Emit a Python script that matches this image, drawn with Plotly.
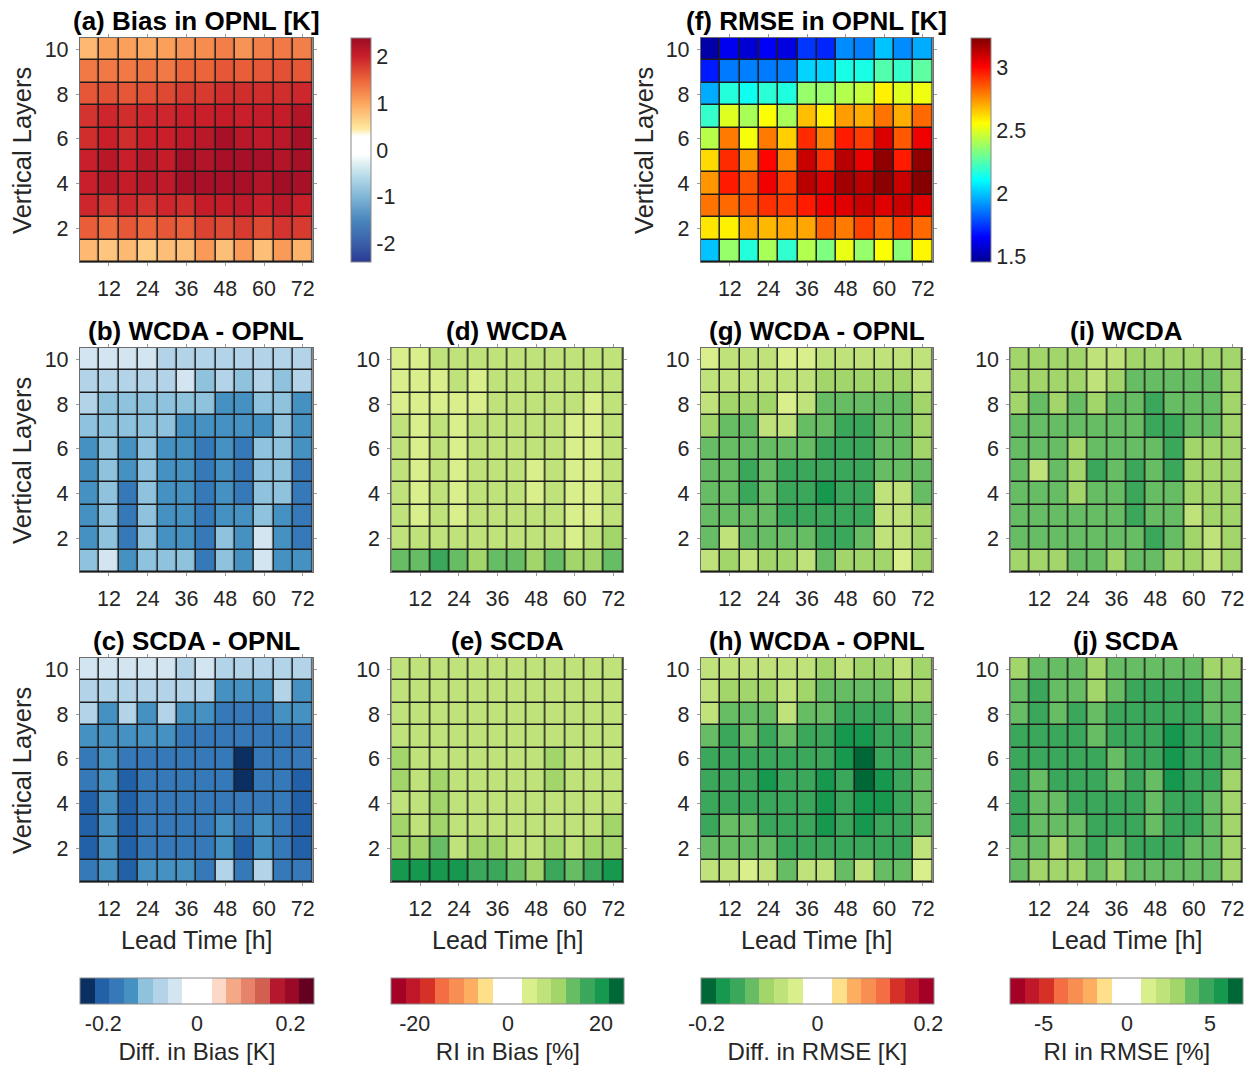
import plotly.graph_objects as go

W, H = 1258, 1066

# ---------------- data ----------------
lead_times = [6, 12, 18, 24, 30, 36, 42, 48, 54, 60, 66, 72]   # [h]
layers = [10, 9, 8, 7, 6, 5, 4, 3, 2, 1]                       # row order of every table (top row first)
x_ticks = [12, 24, 36, 48, 60, 72]
y_ticks = [2, 4, 6, 8, 10]

bias_opnl = [
    [0.85, 1.05, 1.05, 1.0, 1.05, 1.15, 1.2, 1.3, 1.15, 1.3, 1.35, 1.3],
    [1.35, 1.35, 1.35, 1.4, 1.35, 1.5, 1.5, 1.6, 1.55, 1.6, 1.65, 1.6],
    [1.6, 1.65, 1.6, 1.65, 1.7, 1.8, 1.8, 1.9, 1.9, 1.9, 1.9, 1.95],
    [1.85, 1.95, 1.9, 1.95, 1.95, 2.0, 2.0, 2.05, 2.0, 2.05, 2.05, 2.2],
    [1.9, 2.0, 1.9, 2.0, 2.0, 2.1, 2.15, 2.3, 2.15, 2.1, 2.15, 2.3],
    [2.0, 2.15, 2.0, 2.15, 2.05, 2.3, 2.2, 2.3, 2.3, 2.3, 2.2, 2.3],
    [2.0, 2.15, 2.05, 2.15, 2.1, 2.3, 2.3, 2.3, 2.3, 2.2, 2.35, 2.3],
    [1.95, 1.85, 1.95, 1.85, 1.95, 1.9, 2.05, 2.05, 2.1, 2.0, 2.15, 2.0],
    [1.55, 1.45, 1.6, 1.5, 1.6, 1.55, 1.75, 1.7, 1.8, 1.7, 1.85, 1.8],
    [0.85, 0.75, 0.85, 0.7, 0.8, 0.8, 1.1, 0.8, 1.1, 0.8, 1.1, 0.9],
]

rmse_opnl = [
    [1.5, 1.63, 1.58, 1.64, 1.6, 1.75, 1.72, 1.9, 1.88, 2.0, 1.9, 1.96],
    [1.7, 1.87, 1.88, 1.87, 1.88, 2.03, 2.03, 2.15, 2.15, 2.25, 2.2, 2.27],
    [1.96, 2.17, 2.13, 2.18, 2.16, 2.37, 2.37, 2.42, 2.45, 2.58, 2.5, 2.53],
    [2.2, 2.5, 2.4, 2.55, 2.4, 2.67, 2.58, 2.73, 2.7, 2.8, 2.7, 2.82],
    [2.43, 2.79, 2.54, 2.79, 2.64, 2.93, 2.77, 2.96, 2.9, 3.07, 2.85, 3.03],
    [2.62, 2.93, 2.74, 3.0, 2.77, 3.1, 2.93, 3.13, 3.04, 3.2, 2.96, 3.2],
    [2.74, 2.96, 2.86, 3.03, 2.9, 3.13, 3.07, 3.17, 3.13, 3.21, 3.1, 3.22],
    [2.8, 2.82, 2.86, 2.92, 2.9, 2.96, 3.03, 3.06, 3.1, 3.06, 3.1, 3.06],
    [2.6, 2.58, 2.7, 2.68, 2.71, 2.71, 2.84, 2.79, 2.89, 2.82, 2.89, 2.82],
    [2.0, 2.37, 2.17, 2.4, 2.19, 2.42, 2.33, 2.52, 2.37, 2.55, 2.35, 2.57],
]

bias_diff_wcda = [
    [-0.05, -0.05, -0.05, -0.05, -0.08, -0.08, -0.08, -0.08, -0.08, -0.08, -0.08, -0.08],
    [-0.08, -0.08, -0.08, -0.08, -0.08, -0.05, -0.11, -0.08, -0.11, -0.08, -0.11, -0.08],
    [-0.08, -0.11, -0.11, -0.11, -0.11, -0.11, -0.11, -0.14, -0.14, -0.11, -0.11, -0.14],
    [-0.11, -0.11, -0.11, -0.11, -0.11, -0.14, -0.14, -0.14, -0.14, -0.14, -0.11, -0.14],
    [-0.14, -0.11, -0.14, -0.11, -0.14, -0.14, -0.17, -0.14, -0.17, -0.11, -0.11, -0.14],
    [-0.14, -0.11, -0.14, -0.11, -0.14, -0.14, -0.17, -0.14, -0.17, -0.11, -0.11, -0.17],
    [-0.14, -0.11, -0.17, -0.11, -0.14, -0.14, -0.17, -0.14, -0.17, -0.11, -0.11, -0.17],
    [-0.14, -0.11, -0.17, -0.11, -0.14, -0.14, -0.17, -0.14, -0.14, -0.11, -0.14, -0.17],
    [-0.14, -0.11, -0.17, -0.11, -0.14, -0.14, -0.17, -0.11, -0.14, -0.05, -0.14, -0.17],
    [-0.11, -0.05, -0.14, -0.11, -0.11, -0.11, -0.17, -0.11, -0.14, -0.05, -0.14, -0.14],
]

bias_diff_scda = [
    [-0.05, -0.05, -0.05, -0.05, -0.05, -0.08, -0.05, -0.08, -0.08, -0.08, -0.08, -0.08],
    [-0.08, -0.08, -0.08, -0.08, -0.08, -0.08, -0.08, -0.14, -0.14, -0.14, -0.07, -0.14],
    [-0.08, -0.14, -0.08, -0.14, -0.08, -0.14, -0.14, -0.17, -0.17, -0.17, -0.14, -0.14],
    [-0.14, -0.14, -0.14, -0.14, -0.14, -0.17, -0.17, -0.17, -0.17, -0.17, -0.17, -0.17],
    [-0.17, -0.14, -0.17, -0.17, -0.17, -0.17, -0.17, -0.17, -0.235, -0.17, -0.17, -0.17],
    [-0.17, -0.14, -0.20, -0.17, -0.17, -0.17, -0.17, -0.17, -0.24, -0.17, -0.17, -0.20],
    [-0.20, -0.14, -0.20, -0.17, -0.17, -0.17, -0.17, -0.17, -0.17, -0.17, -0.17, -0.20],
    [-0.20, -0.14, -0.20, -0.17, -0.17, -0.17, -0.17, -0.14, -0.17, -0.14, -0.17, -0.20],
    [-0.20, -0.14, -0.20, -0.17, -0.17, -0.17, -0.17, -0.14, -0.20, -0.14, -0.17, -0.20],
    [-0.17, -0.14, -0.20, -0.14, -0.14, -0.14, -0.17, -0.08, -0.17, -0.08, -0.17, -0.17],
]

ri_bias_wcda = [
    [4.7, 4.7, 7.8, 7.8, 7.8, 7.8, 7.8, 7.8, 7.8, 7.8, 7.8, 7.8],
    [4.7, 4.7, 4.7, 7.8, 4.7, 7.8, 7.8, 7.8, 7.8, 7.8, 7.8, 7.8],
    [4.7, 4.7, 4.7, 4.7, 4.7, 7.8, 7.8, 7.8, 7.8, 7.8, 4.7, 7.8],
    [7.8, 4.7, 7.8, 4.7, 7.8, 7.8, 7.8, 7.8, 7.8, 4.7, 4.7, 7.8],
    [7.8, 4.7, 7.8, 4.7, 7.8, 7.8, 7.8, 7.8, 7.8, 4.7, 4.7, 7.8],
    [7.8, 4.7, 7.8, 4.7, 7.8, 7.8, 7.8, 4.7, 7.8, 4.7, 4.7, 7.8],
    [7.8, 4.7, 7.8, 4.7, 7.8, 7.8, 7.8, 4.7, 7.8, 4.7, 4.7, 7.8],
    [7.8, 4.7, 7.8, 4.7, 7.8, 7.8, 7.8, 7.8, 7.8, 4.7, 4.7, 7.8],
    [7.8, 7.8, 7.8, 7.8, 7.8, 7.8, 7.8, 7.8, 7.8, 4.7, 7.8, 10.9],
    [14.0, 14.0, 17.2, 14.0, 10.9, 14.0, 14.0, 10.9, 14.0, 10.9, 10.9, 14.0],
]

ri_bias_scda = [
    [7.8, 7.8, 7.8, 7.8, 7.8, 7.8, 7.8, 7.8, 7.8, 7.8, 7.8, 7.8],
    [7.8, 7.8, 7.8, 7.8, 7.8, 7.8, 7.8, 7.8, 7.8, 7.8, 7.8, 7.8],
    [7.8, 7.8, 7.8, 7.8, 7.8, 7.8, 7.8, 7.8, 7.8, 7.8, 7.8, 7.8],
    [7.8, 7.8, 7.8, 7.8, 7.8, 7.8, 7.8, 7.8, 7.8, 7.8, 7.8, 7.8],
    [10.9, 7.8, 7.8, 7.8, 7.8, 7.8, 7.8, 7.8, 10.9, 7.8, 7.8, 7.8],
    [10.9, 7.8, 10.9, 7.8, 7.8, 7.8, 7.8, 7.8, 10.9, 7.8, 7.8, 7.8],
    [7.8, 7.8, 10.9, 7.8, 7.8, 7.8, 7.8, 7.8, 7.8, 7.8, 7.8, 7.8],
    [10.9, 7.8, 10.9, 7.8, 7.8, 7.8, 7.8, 7.8, 7.8, 7.8, 7.8, 10.9],
    [10.9, 10.9, 14.0, 7.8, 10.9, 10.9, 7.8, 7.8, 10.9, 7.8, 10.9, 10.9],
    [20.3, 20.3, 20.3, 20.3, 17.2, 17.2, 14.0, 10.9, 17.2, 14.0, 17.2, 20.3],
]

rmse_diff_wcda = [
    [-0.04, -0.065, -0.065, -0.065, -0.04, -0.04, -0.065, -0.065, -0.065, -0.065, -0.065, -0.065],
    [-0.065, -0.065, -0.065, -0.065, -0.065, -0.065, -0.09, -0.09, -0.09, -0.09, -0.09, -0.065],
    [-0.065, -0.09, -0.09, -0.09, -0.04, -0.065, -0.12, -0.12, -0.12, -0.12, -0.12, -0.09],
    [-0.09, -0.12, -0.12, -0.065, -0.065, -0.12, -0.12, -0.145, -0.145, -0.12, -0.12, -0.09],
    [-0.12, -0.12, -0.12, -0.12, -0.12, -0.12, -0.145, -0.145, -0.145, -0.12, -0.12, -0.09],
    [-0.12, -0.12, -0.145, -0.12, -0.145, -0.145, -0.145, -0.145, -0.145, -0.12, -0.12, -0.12],
    [-0.12, -0.12, -0.145, -0.12, -0.145, -0.145, -0.17, -0.145, -0.145, -0.065, -0.065, -0.12],
    [-0.12, -0.12, -0.12, -0.12, -0.145, -0.145, -0.145, -0.145, -0.145, -0.065, -0.065, -0.09],
    [-0.12, -0.065, -0.12, -0.12, -0.12, -0.12, -0.145, -0.145, -0.12, -0.065, -0.065, -0.09],
    [-0.065, -0.09, -0.065, -0.09, -0.09, -0.065, -0.12, -0.09, -0.09, -0.09, -0.04, -0.09],
]

rmse_diff_h = [
    [-0.065, -0.065, -0.065, -0.065, -0.065, -0.065, -0.09, -0.065, -0.09, -0.09, -0.065, -0.09],
    [-0.065, -0.09, -0.09, -0.09, -0.065, -0.09, -0.12, -0.12, -0.12, -0.12, -0.09, -0.09],
    [-0.065, -0.12, -0.12, -0.12, -0.065, -0.12, -0.12, -0.145, -0.145, -0.145, -0.12, -0.12],
    [-0.12, -0.145, -0.12, -0.145, -0.12, -0.145, -0.145, -0.17, -0.17, -0.145, -0.145, -0.12],
    [-0.145, -0.145, -0.145, -0.145, -0.145, -0.145, -0.145, -0.17, -0.195, -0.145, -0.145, -0.12],
    [-0.145, -0.145, -0.145, -0.17, -0.145, -0.145, -0.17, -0.145, -0.195, -0.17, -0.145, -0.12],
    [-0.145, -0.145, -0.145, -0.145, -0.145, -0.145, -0.17, -0.145, -0.17, -0.17, -0.145, -0.12],
    [-0.145, -0.12, -0.12, -0.145, -0.145, -0.145, -0.17, -0.145, -0.17, -0.145, -0.145, -0.12],
    [-0.12, -0.12, -0.12, -0.12, -0.145, -0.145, -0.145, -0.145, -0.145, -0.145, -0.145, -0.065],
    [-0.065, -0.065, -0.04, -0.065, -0.12, -0.065, -0.065, -0.12, -0.065, -0.12, -0.12, -0.04],
]

ri_rmse_wcda = [
    [3.1, 3.1, 3.1, 3.1, 2.2, 2.2, 3.1, 3.1, 3.1, 3.1, 3.1, 3.1],
    [3.1, 3.1, 3.1, 3.1, 2.2, 3.1, 3.9, 3.9, 3.9, 3.9, 3.9, 3.1],
    [3.1, 3.9, 3.1, 3.9, 3.1, 3.9, 3.9, 4.8, 3.9, 3.9, 3.9, 3.1],
    [3.9, 3.9, 3.9, 3.9, 3.9, 3.9, 3.9, 4.8, 4.8, 3.9, 3.9, 3.1],
    [3.9, 3.9, 3.9, 3.1, 3.9, 3.9, 3.9, 3.9, 4.8, 3.1, 3.1, 3.1],
    [3.9, 2.2, 3.9, 3.1, 4.8, 3.9, 4.8, 3.9, 4.8, 3.1, 3.1, 3.1],
    [3.9, 3.9, 3.9, 3.1, 3.9, 3.9, 4.8, 3.9, 3.9, 3.1, 3.1, 3.1],
    [3.9, 3.9, 3.9, 3.9, 3.9, 3.9, 4.8, 3.9, 3.9, 2.2, 3.1, 3.1],
    [3.9, 3.9, 3.9, 3.9, 3.9, 3.9, 3.9, 4.8, 3.9, 3.1, 2.2, 3.1],
    [3.1, 3.1, 3.1, 3.9, 3.9, 3.1, 3.9, 3.9, 3.1, 3.1, 2.2, 3.1],
]

ri_rmse_scda = [
    [3.1, 3.9, 3.9, 3.9, 3.1, 3.9, 3.9, 3.9, 3.9, 3.9, 3.1, 3.1],
    [3.9, 4.8, 3.9, 3.9, 3.1, 3.9, 4.8, 4.8, 4.8, 4.8, 3.9, 3.9],
    [3.9, 4.8, 3.9, 4.8, 3.9, 4.8, 4.8, 4.8, 4.8, 4.8, 3.9, 3.9],
    [4.8, 4.8, 4.8, 4.8, 3.9, 4.8, 4.8, 4.8, 5.7, 4.8, 4.8, 3.9],
    [4.8, 4.8, 4.8, 4.8, 4.8, 3.9, 4.8, 4.8, 5.7, 4.8, 4.8, 3.9],
    [4.8, 3.9, 4.8, 4.8, 4.8, 3.9, 4.8, 3.9, 5.7, 4.8, 4.8, 3.1],
    [4.8, 3.9, 3.9, 4.8, 4.8, 4.8, 4.8, 3.9, 4.8, 4.8, 3.9, 3.1],
    [4.8, 3.9, 3.9, 3.9, 4.8, 4.8, 4.8, 3.9, 4.8, 4.8, 3.9, 3.1],
    [3.9, 3.9, 3.1, 3.9, 4.8, 3.9, 4.8, 4.8, 4.8, 3.9, 3.9, 3.1],
    [3.9, 3.1, 3.1, 3.1, 3.9, 3.1, 3.9, 3.9, 3.9, 3.9, 3.9, 3.1],
]

# ---------------- styling ----------------
FONT = "Liberation Sans, Arial, Helvetica, sans-serif"
TXT = "#262626"


def stepped(colors):
    """Piecewise-constant colorscale with equal-width classes."""
    n = len(colors)
    scale = []
    for i, c in enumerate(colors):
        scale.append([i / n, c])
        scale.append([(i + 1) / n, c])
    return scale


bias_scale = [
    [0.0, "#2b3a94"], [0.083, "#3a5fa8"], [0.1875, "#4a86bd"], [0.29, "#7fb5d6"],
    [0.396, "#bfe0ec"], [0.448, "#e6f3f3"], [0.479, "#ffffff"], [0.5625, "#ffffff"],
    [0.594, "#fee9a0"], [0.708, "#fca75f"], [0.8125, "#ec653a"], [0.917, "#c91f2a"],
    [1.0, "#9c0b25"],
]

jet_scale = [
    [0.0, "rgb(0,0,143)"], [0.11, "rgb(0,0,255)"], [0.365, "rgb(0,255,255)"],
    [0.619, "rgb(255,255,0)"], [0.873, "rgb(255,0,0)"], [1.0, "rgb(128,0,0)"],
]

blue_red16 = ["#0b2f63", "#2261a8", "#3679b9", "#4591c2", "#8fc2dd", "#b3d4e8", "#d2e5f1", "#ffffff",
              "#ffffff", "#fbd9c6", "#f4a886", "#e7826b", "#d35f51", "#b5182c", "#9a0a27", "#650021"]
red_green16 = ["#a50026", "#c1172b", "#d73027", "#f46d43", "#f88e52", "#fdae61", "#fee08b", "#ffffff",
               "#ffffff", "#d9ef8b", "#bfe27b", "#a3d66a", "#66bd63", "#3aa75a", "#17984f", "#006837"]
green_red16 = red_green16[::-1]

# panel boxes in pixels: (left, right) columns and (top, bottom) rows
COLS = [(80, 313), (392, 624), (702, 934), (1012, 1244)]
ROWS = [(38, 262), (348, 572), (658, 882)]

panels = [
    ("(a) Bias in OPNL [K]", bias_opnl, 0, 0, "coloraxis"),
    ("(f) RMSE in OPNL [K]", rmse_opnl, 2, 0, "coloraxis2"),
    ("(b) WCDA - OPNL", bias_diff_wcda, 0, 1, "coloraxis3"),
    ("(c) SCDA - OPNL", bias_diff_scda, 0, 2, "coloraxis3"),
    ("(d) WCDA", ri_bias_wcda, 1, 1, "coloraxis4"),
    ("(e) SCDA", ri_bias_scda, 1, 2, "coloraxis4"),
    ("(g) WCDA - OPNL", rmse_diff_wcda, 2, 1, "coloraxis5"),
    ("(h) WCDA - OPNL", rmse_diff_h, 2, 2, "coloraxis5"),
    ("(i) WCDA", ri_rmse_wcda, 3, 1, "coloraxis6"),
    ("(j) SCDA", ri_rmse_scda, 3, 2, "coloraxis6"),
]

fig = go.Figure()
layout = {}
annotations = []

axis_common = dict(
    showgrid=False, zeroline=False, showline=True, linecolor="#6e6e6e", linewidth=1,
    mirror="ticks", ticks="outside", ticklen=3, tickcolor="#9a9a9a",
    tickfont=dict(size=21.5, color=TXT, family=FONT), fixedrange=True,
)

for i, (title, table, c, r, cax) in enumerate(panels, start=1):
    sfx = "" if i == 1 else str(i)
    left, right = COLS[c]
    top, bottom = ROWS[r]
    fig.add_trace(go.Heatmap(
        x=lead_times, y=layers[::-1], z=table[::-1], coloraxis=cax,
        xaxis="x" + sfx, yaxis="y" + sfx, xgap=1.5, ygap=1.5, hoverongaps=False,
    ))
    layout["xaxis" + sfx] = dict(
        axis_common, domain=[left / W, right / W], anchor="y" + sfx,
        range=[3, 75], tickvals=x_ticks, ticklabelstandoff=4,
    )
    layout["yaxis" + sfx] = dict(
        axis_common, domain=[1 - bottom / H, 1 - top / H], anchor="x" + sfx,
        range=[0.5, 10.5], tickvals=y_ticks, ticklabelstandoff=3,
    )
    annotations.append(dict(
        text="<b>%s</b>" % title, x=(left + right) / 2 / W, y=1 - (top - 17) / H,
        xref="paper", yref="paper", xanchor="center", yanchor="middle", showarrow=False,
        font=dict(size=26, color="#000000", family=FONT),
    ))

# axis labels
for (lx, top, bottom) in [(22, 38, 262), (22, 348, 572), (22, 658, 882), (645, 38, 262)]:
    annotations.append(dict(
        text="Vertical Layers", x=lx / W, y=1 - (top + bottom) / 2 / H, xref="paper", yref="paper",
        textangle=-90, showarrow=False, xanchor="center", yanchor="middle",
        font=dict(size=25.5, color=TXT, family=FONT),
    ))
for (left, right) in COLS:
    annotations.append(dict(
        text="Lead Time [h]", x=(left + right) / 2 / W, y=1 - 940 / H, xref="paper", yref="paper",
        showarrow=False, xanchor="center", yanchor="middle",
        font=dict(size=25, color=TXT, family=FONT),
    ))


def vbar(x_px, tickvals, ticktext):
    return dict(
        x=x_px / W, xanchor="left", y=1 - 38 / H, yanchor="top", len=224, lenmode="pixels",
        thickness=20, xpad=0, ypad=0, outlinewidth=1, outlinecolor="#8a8a8a",
        tickvals=tickvals, ticktext=ticktext, ticks="",
        tickfont=dict(size=21.5, color=TXT, family=FONT),
    )


def hbar(col, tickvals, ticktext, label):
    left, right = COLS[col]
    return dict(
        orientation="h", x=left / W, xanchor="left", y=1 - 978 / H, yanchor="top",
        len=right - left + 1, lenmode="pixels", thickness=26, xpad=0, ypad=0,
        outlinewidth=1, outlinecolor="#8a8a8a", tickvals=tickvals, ticktext=ticktext, ticks="",
        tickfont=dict(size=21.5, color=TXT, family=FONT),
        title=dict(text=label, side="bottom", font=dict(size=24, color=TXT, family=FONT)),
    )


layout["coloraxis"] = dict(colorscale=bias_scale, cmin=-2.4, cmax=2.4,
                           colorbar=vbar(352, [-2, -1, 0, 1, 2], ["-2", "-1", "0", "1", "2"]))
layout["coloraxis2"] = dict(colorscale=jet_scale, cmin=1.46, cmax=3.23,
                            colorbar=vbar(973, [1.5, 2, 2.5, 3], ["1.5", "2", "2.5", "3"]))
layout["coloraxis3"] = dict(colorscale=stepped(blue_red16), cmin=-0.25, cmax=0.25,
                            colorbar=hbar(0, [-0.2, 0, 0.2], ["-0.2", "0", "0.2"], "Diff. in Bias [K]"))
layout["coloraxis4"] = dict(colorscale=stepped(red_green16), cmin=-25, cmax=25,
                            colorbar=hbar(1, [-20, 0, 20], ["-20", "0", "20"], "RI in Bias [%]"))
layout["coloraxis5"] = dict(colorscale=stepped(green_red16), cmin=-0.21, cmax=0.21,
                            colorbar=hbar(2, [-0.2, 0, 0.2], ["-0.2", "0", "0.2"], "Diff. in RMSE [K]"))
layout["coloraxis6"] = dict(colorscale=stepped(red_green16), cmin=-7, cmax=7,
                            colorbar=hbar(3, [-5, 0, 5], ["-5", "0", "5"], "RI in RMSE [%]"))

fig.update_layout(
    width=W, height=H, margin=dict(l=0, r=0, t=0, b=0),
    paper_bgcolor="#ffffff", plot_bgcolor="#1c1c1c",
    font=dict(family=FONT, color=TXT), showlegend=False,
    annotations=annotations, **layout,
)

fig.write_html("out.html", config={"displayModeBar": False})
